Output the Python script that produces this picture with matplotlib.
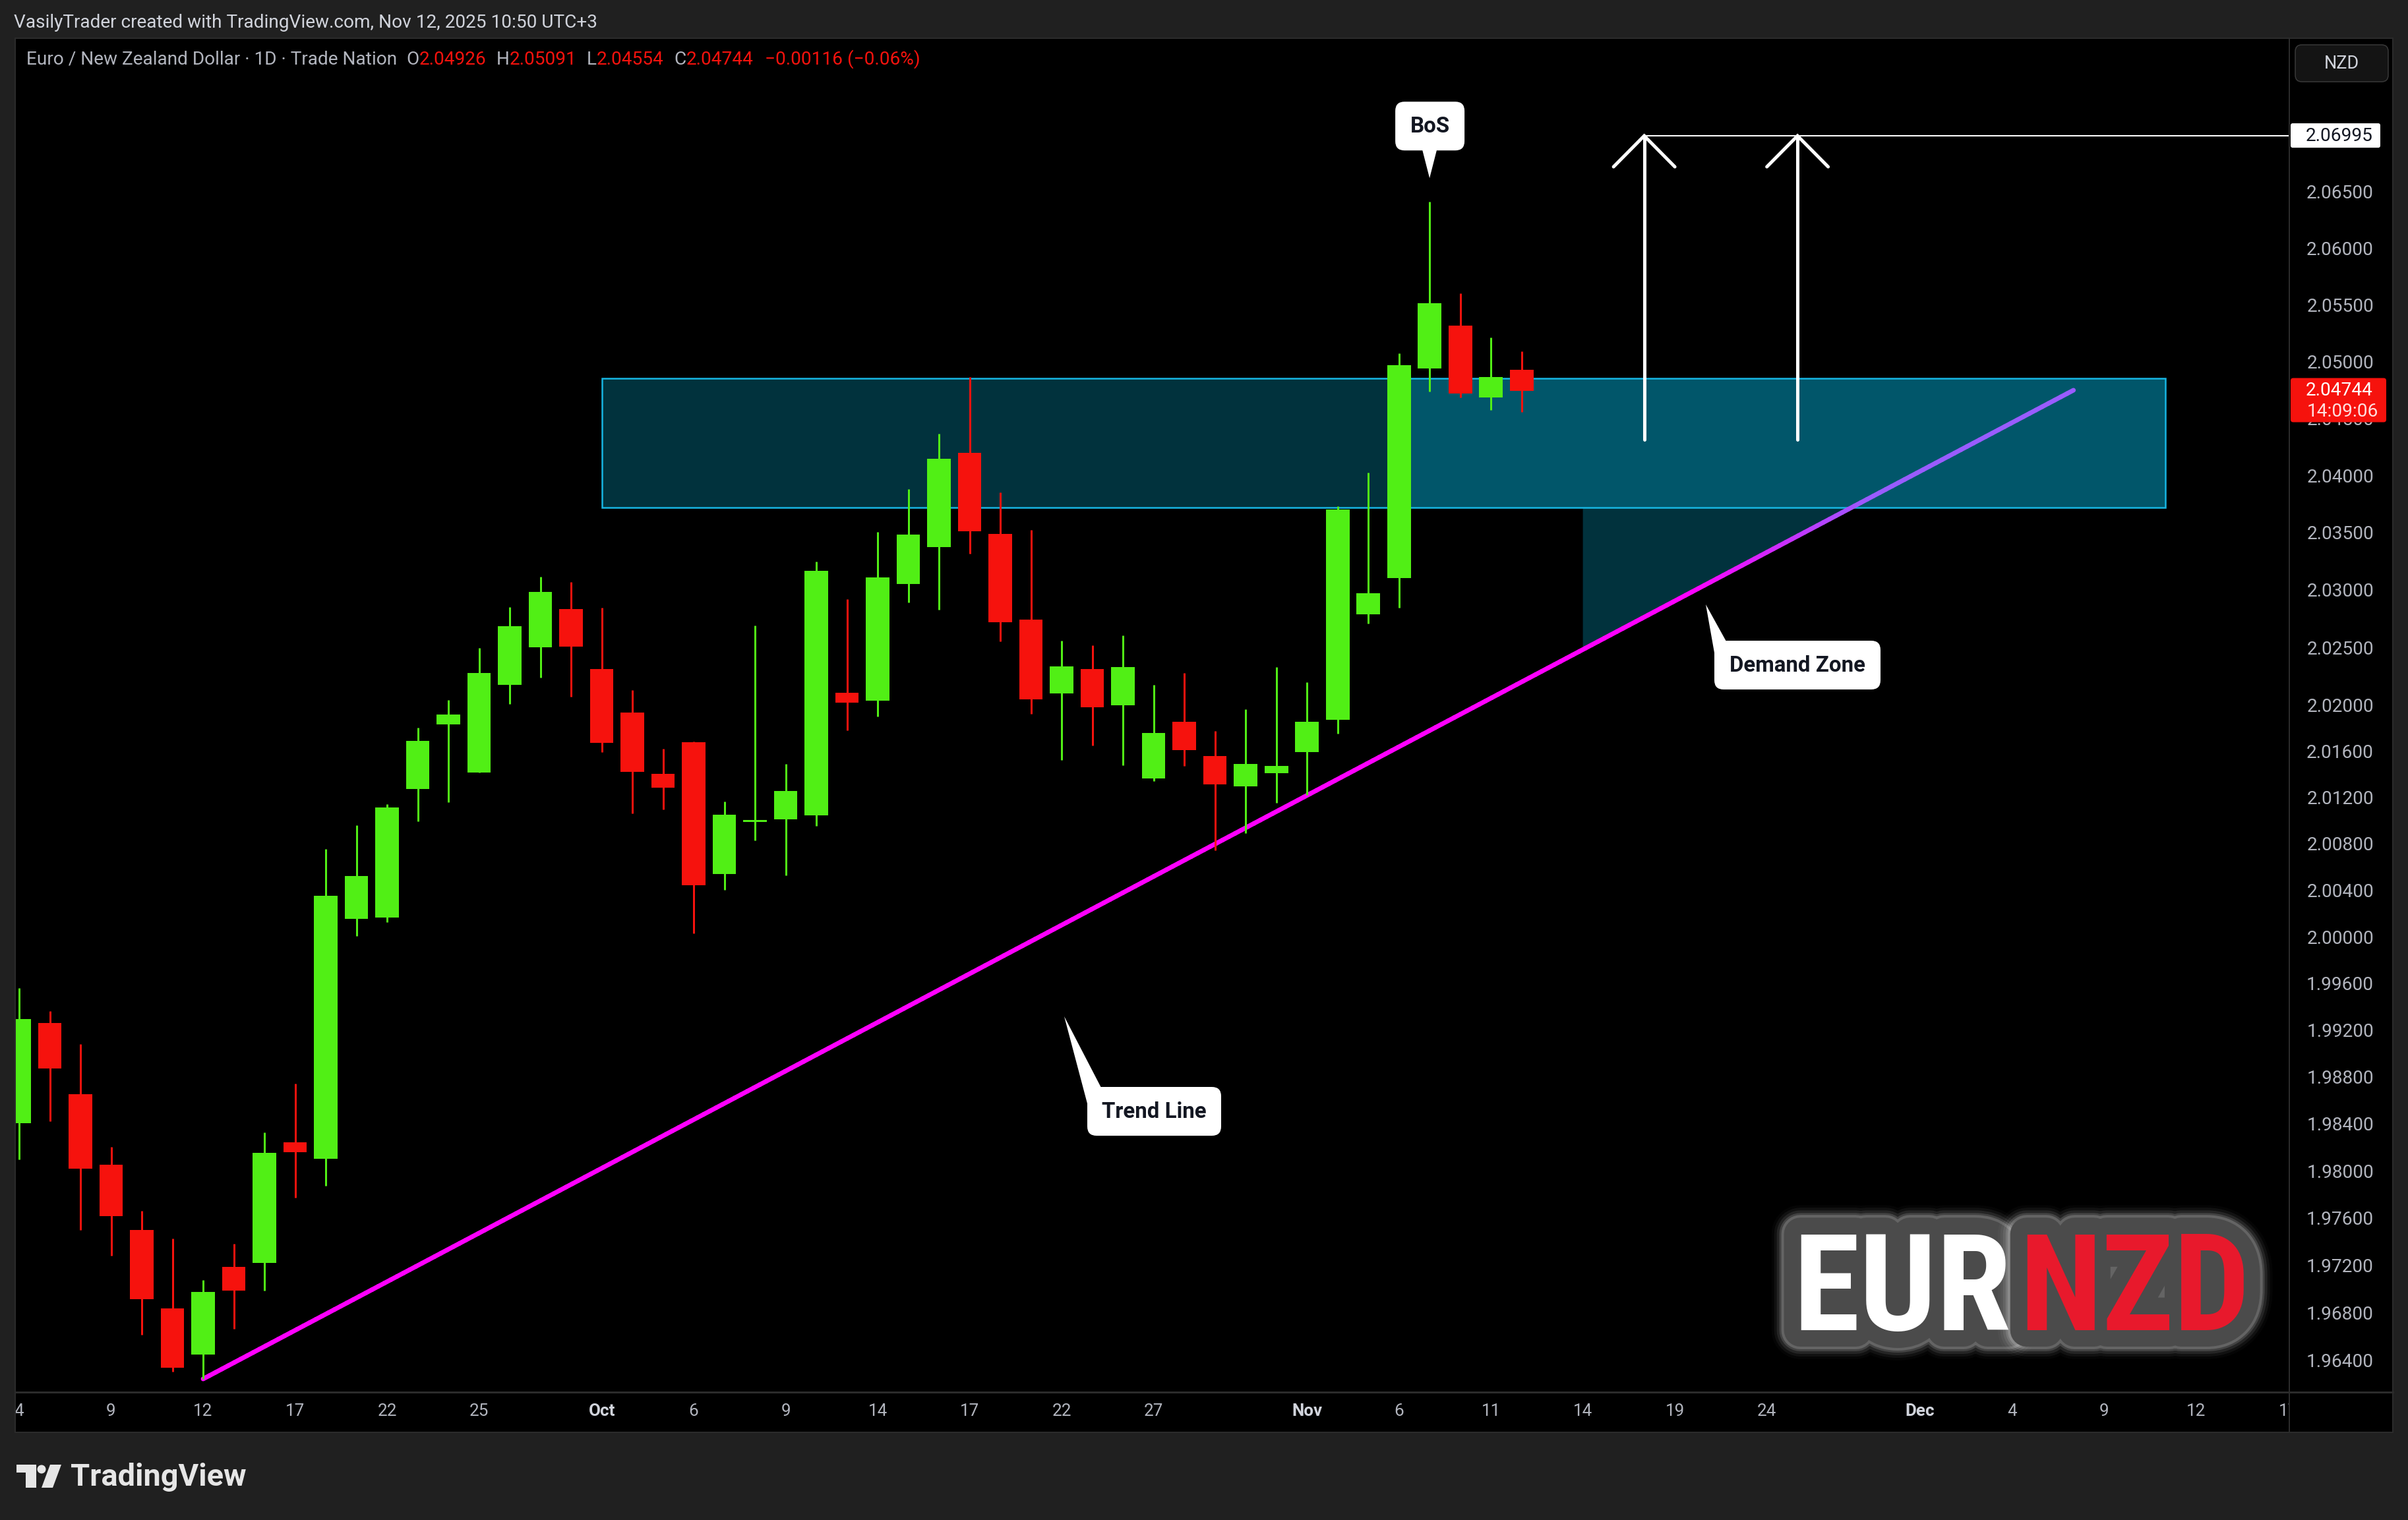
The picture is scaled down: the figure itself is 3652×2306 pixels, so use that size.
import numpy as np
import matplotlib
matplotlib.use('Agg')
import matplotlib.pyplot as plt
import matplotlib.patheffects as pe
from matplotlib.patches import Rectangle, FancyBboxPatch, Polygon, Circle
from matplotlib.collections import LineCollection
from matplotlib.lines import Line2D
from matplotlib.transforms import IdentityTransform

W, H, DPI = 3652, 2306, 72
plt.rcParams['font.family'] = ['Roboto', 'DejaVu Sans']

GREEN = '#51ef15'
RED = '#f6120d'
BG = '#202020'
BORDER = '#2b2b2b'
GREY = '#b2b5be'
LIGHT = '#d1d4dc'

# EUR/NZD daily candles, Sep 4 - Nov 12 2025 (trading days only)
opens = [1.98405, 1.99261, 1.98653, 1.98052, 1.97498, 1.96835, 1.96444, 1.97186, 1.97221, 1.98242,
         1.98103, 2.00154, 2.00164, 2.01272, 2.01832, 2.01414, 2.02174, 2.02499, 2.02832, 2.02310,
         2.01934, 2.01402, 2.01677, 2.00539, 2.00988, 2.01010, 2.01044, 2.02105, 2.02036, 2.03053,
         2.03373, 2.04197, 2.03487, 2.02741, 2.02098, 2.02311, 2.01996, 2.01363, 2.01852, 2.01556,
         2.01293, 2.01411, 2.01593, 2.01868, 2.02784, 2.03105, 2.04937, 2.05315, 2.04681, 2.04926]
highs = [1.99559, 1.99362, 1.99080, 1.98203, 1.97660, 1.97425, 1.97074, 1.97380, 1.98327, 1.98742,
         2.00755, 2.00959, 2.01141, 2.01801, 2.02043, 2.02494, 2.02849, 2.03114, 2.03068, 2.02844,
         2.02128, 2.01618, 2.01680, 2.01163, 2.02688, 2.01489, 2.03247, 2.02919, 2.03505, 2.03878,
         2.04363, 2.04863, 2.03851, 2.03522, 2.02557, 2.02517, 2.02603, 2.02173, 2.02276, 2.01775,
         2.01961, 2.02329, 2.02195, 2.03730, 2.04023, 2.05069, 2.06409, 2.05598, 2.05209, 2.05091]
lows = [1.98099, 1.98422, 1.97500, 1.97280, 1.96611, 1.96301, 1.96239, 1.96659, 1.96987, 1.97774,
        1.97872, 2.00007, 2.00123, 2.00993, 2.01158, 2.01414, 2.02008, 2.02236, 2.02070, 2.01591,
        2.01059, 2.01095, 2.00028, 2.00402, 2.00828, 2.00526, 2.00952, 2.01779, 2.01899, 2.02890,
        2.02828, 2.03316, 2.02552, 2.01922, 2.01521, 2.01648, 2.01478, 2.01341, 2.01470, 2.00745,
        2.00893, 2.01155, 2.01219, 2.01749, 2.02705, 2.02844, 2.04733, 2.04681, 2.04575, 2.04554]
closes = [1.99294, 1.98871, 1.98019, 1.97615, 1.96912, 1.96331, 1.96974, 1.96982, 1.98153, 1.98159,
          2.00349, 2.00521, 2.01113, 2.01687, 2.01915, 2.02276, 2.02683, 2.02980, 2.02507, 2.01672,
          2.01420, 2.01282, 2.00442, 2.01049, 2.01003, 2.01255, 2.03165, 2.02019, 2.03108, 2.03481,
          2.04145, 2.03511, 2.02717, 2.02046, 2.02332, 2.01979, 2.02327, 2.01756, 2.01610, 2.01311,
          2.01489, 2.01474, 2.01853, 2.03700, 2.02971, 2.04967, 2.05511, 2.04718, 2.04860, 2.04744]

# time axis (index = trading day since Sep 4)
tick_pos = [0, 3, 6, 9, 12, 15, 19, 22, 25, 28, 31, 34, 37, 42, 45, 48, 51, 54, 57, 62, 65, 68, 71, 74]
tick_labels = ['4', '9', '12', '17', '22', '25', 'Oct', '6', '9', '14', '17', '22', '27',
               'Nov', '6', '11', '14', '19', '24', 'Dec', '4', '9', '12', '17']
price_ticks = [2.065, 2.060, 2.055, 2.050, 2.045, 2.040, 2.035, 2.030, 2.025, 2.020,
               2.016, 2.012, 2.008, 2.004, 2.000, 1.996, 1.992, 1.988, 1.984, 1.980,
               1.976, 1.972, 1.968, 1.964]

# drawings
zone_top, zone_bottom = 2.04854, 2.03720
zone_start, zone_bright_start, zone_end = 19, 45, 70
shade_start = 51
target = 2.06995
arrow_days = [53, 58]
arrow_base = 2.04311
trend_end_day, trend_end_price = 67, 2.04747

fig = plt.figure(figsize=(W / DPI, H / DPI), dpi=DPI, facecolor=BG)
PIX = IdentityTransform()


def rect(x0, y0, x1, y1):
    return [x0 / W, 1 - y1 / H, (x1 - x0) / W, (y1 - y0) / H]


def fpt(x, y):
    return (x, H - y)


def ftext(x, y, s, **kw):
    return fig.text(x / W, 1 - y / H, s, **kw)


def box(x0, y0, x1, y1, fc, r=10, ec='none', lw=0, z=8):
    fig.add_artist(FancyBboxPatch((x0, H - y1), x1 - x0, y1 - y0,
                                  boxstyle=f'round,pad=0,rounding_size={r}', transform=PIX,
                                  fc=fc, ec=ec, lw=lw, zorder=z))


def poly(pts, fc, z=8):
    fig.add_artist(Polygon([fpt(*p) for p in pts], closed=True, transform=PIX,
                           fc=fc, ec='none', zorder=z))


def fline(xs, ys, color=BORDER, lw=2, z=7):
    fig.add_artist(Line2D(xs, [H - y for y in ys], transform=PIX, color=color, lw=lw, zorder=z))


# panel background
fig.add_artist(Rectangle((23, H - 2173), 3606, 2115, transform=PIX, fc='black', ec='none', zorder=-1))

ax = fig.add_axes(rect(23, 58, 3472, 2112))
ax.set_facecolor('black')
ax.set_yscale('log')
ax.set_xlim(-0.13, 74.04)
ax.set_ylim(1.96128, 2.07864)
for s in ax.spines.values():
    s.set_visible(False)
ax.tick_params(axis='y', which='both', left=False, labelleft=False)
ax.set_xticks(tick_pos, tick_labels)
ax.minorticks_off()
ax.tick_params(axis='x', length=0, pad=17, labelsize=26, labelcolor=GREY)
for lab, txt in zip(ax.get_xticklabels(), tick_labels):
    if txt in ('Oct', 'Nov', 'Dec'):
        lab.set_fontweight('bold')
        lab.set_color(LIGHT)

# price axis
axp = fig.add_axes(rect(3472, 58, 3629, 2112), zorder=2)
axp.set_facecolor('black')
axp.set_yscale('log')
axp.set_ylim(ax.get_ylim())
axp.set_xlim(0, 1)
axp.set_xticks([])
for s in axp.spines.values():
    s.set_visible(False)
axp.set_yticks(price_ticks, [f'{p:.5f}' for p in price_ticks])
axp.minorticks_off()
axp.tick_params(axis='y', length=0, pad=-128, labelsize=28, labelcolor=GREY)


def img_y(p):
    return H - ax.transData.transform((0, p))[1]


def img_x(i):
    return ax.transData.transform((i, 2.0))[0]


def price_at_img_y(y):
    return ax.transData.inverted().transform((0, H - y))[1]


# trend line, straight on screen (log-linear in price)
ti0, tp0 = 6, lows[6]


def trend_price(i):
    return np.exp(np.log(tp0) + (i - ti0) / (trend_end_day - ti0) * (np.log(trend_end_price) - np.log(tp0)))


# demand zone
ax.add_patch(Rectangle((zone_start, zone_bottom), zone_end - zone_start, zone_top - zone_bottom,
                       fc='#01323d', ec='none', zorder=1))
ax.add_patch(Rectangle((zone_bright_start, zone_bottom), zone_end - zone_bright_start, zone_top - zone_bottom,
                       fc='#01566a', ec='none', zorder=1.1))
i_cross = ti0 + (np.log(zone_bottom) - np.log(tp0)) / (np.log(trend_end_price) - np.log(tp0)) * (trend_end_day - ti0)
ax.add_patch(Polygon([(shade_start, zone_bottom), (shade_start, trend_price(shade_start)), (i_cross, zone_bottom)],
                     closed=True, fc='#01323d', ec='none', zorder=1))
ax.add_patch(Rectangle((zone_start, zone_bottom), zone_end - zone_start, zone_top - zone_bottom,
                       fill=False, ec='#17b6e3', lw=2.5, zorder=2.5))

ts = np.linspace(ti0, trend_end_day, 300)
pts = np.column_stack([ts, trend_price(ts)]).reshape(-1, 1, 2)
segs = np.concatenate([pts[:-1], pts[1:]], axis=1)
mid = (ts[:-1] + ts[1:]) / 2
t = np.clip((mid - 54.5) / 6.0, 0, 1)[:, None]
cols = (1 - t) * np.array([1.0, 0.0, 1.0]) + t * np.array([0.60, 0.36, 1.0])
ax.add_collection(LineCollection(segs, colors=cols, linewidths=7, capstyle='round', zorder=3))

# candles
x = np.arange(len(opens))
o, h, l, c = (np.array(v) for v in (opens, highs, lows, closes))
colors = np.where(c >= o, GREEN, RED)
ax.vlines(x, l, h, colors=colors, lw=3, zorder=4)
ax.bar(x, np.abs(c - o), bottom=np.minimum(o, c), width=0.77, color=colors, lw=0, zorder=5)

# target arrows
tip_y = img_y(target)
head_p = price_at_img_y(tip_y + 47)
for d in arrow_days:
    ax.plot([d, d], [arrow_base, target], color='white', lw=5, solid_capstyle='round', zorder=7)
    ax.plot([d - 1, d, d + 1], [head_p, target, head_p], color='white', lw=5,
            solid_joinstyle='miter', solid_capstyle='round', zorder=7)
ax.hlines(target, arrow_days[0], ax.get_xlim()[1], color='white', lw=2, zorder=7)

# callouts
def callout(x0, y0, x1, y1, tail, label, fs=33):
    box(x0, y0, x1, y1, 'white', r=14)
    poly(tail, 'white')
    ftext((x0 + x1) / 2, (y0 + y1) / 2 + 1, label, ha='center', va='center', fontsize=fs,
          fontweight='bold', color='#131722', zorder=9)


bx = img_x(46)
by = img_y(highs[46]) - 36
callout(bx - 52, by - 116, bx + 53, by - 42, [(bx - 11, by - 43), (bx + 11, by - 43), (bx, by)], 'BoS')
callout(2600, 972, 2852, 1046, [(2587, 917), (2601, 996), (2618, 973)], 'Demand Zone')
callout(1649, 1649, 1852, 1723, [(1614, 1542), (1650, 1678), (1670, 1650)], 'Trend Line')

# price axis labels
box(3474, tip_y - 19, 3610, tip_y + 18, 'white', r=3, z=9)
ftext(3599, tip_y, f'{target:.5f}', ha='right', va='center', fontsize=28, color='#131722', zorder=10)
cy = img_y(closes[-1])
box(3474, cy - 19, 3619, cy + 48, RED, r=4, z=9)
ftext(3599, cy, f'{closes[-1]:.5f}', ha='right', va='center', fontsize=28, color='white', zorder=10)
ftext(3607, cy + 32, '14:09:06', ha='right', va='center', fontsize=28, color='#ffdede', zorder=10)
box(3481, 68, 3622, 124, '#141414', r=10, ec='#3a3a3a', lw=1.5, z=9)
ftext(3551, 96, 'NZD', ha='center', va='center', fontsize=27, color=LIGHT, zorder=10)

# cover of time-axis under the price scale, borders
fig.add_artist(Rectangle((3473, H - 2172), 155, 59, transform=PIX, fc='black', ec='none', zorder=3))
fline([23, 3629], [2112, 2112], lw=3)
fline([3472, 3472], [58, 2173], lw=2)
fig.add_artist(Rectangle((23, H - 2173), 3606, 2115, transform=PIX, fill=False, ec=BORDER, lw=2, zorder=7))

# header / legend
ftext(21, 35, 'VasilyTrader created with TradingView.com, Nov 12, 2025 10:50 UTC+3',
      va='center', fontsize=28, color=LIGHT)
chg = closes[-1] - closes[-2]
pieces = [('O', GREY, 14), (f'{opens[-1]:.5f}', RED, 0), ('H', GREY, 16), (f'{highs[-1]:.5f}', RED, 0),
          ('L', GREY, 15), (f'{lows[-1]:.5f}', RED, 0), ('C', GREY, 16), (f'{closes[-1]:.5f}', RED, 0),
          (f'{chg:+.5f} ({chg / closes[-2] * 100:+.2f}%)'.replace('-', '\u2212'), RED, 17)]
prev = ftext(40, 90, 'Euro / New Zealand Dollar \u00b7 1D \u00b7 Trade Nation', va='center',
             fontsize=28, color=GREY, zorder=9)
for s, col, gap in pieces:
    prev = ax.annotate(s, xy=(1, 0), xycoords=prev, xytext=(gap, 0), textcoords='offset pixels',
                       ha='left', va='bottom', fontsize=28, color=col, zorder=9)

# EURNZD badge
logo_font = ['Roboto Condensed', 'Liberation Sans Narrow', 'DejaVu Sans']
glow = [pe.Stroke(linewidth=88, foreground='white', alpha=0.025),
        pe.Stroke(linewidth=80, foreground='white', alpha=0.05),
        pe.Stroke(linewidth=72, foreground='#f0f0f0', alpha=0.09),
        pe.Stroke(linewidth=64, foreground='#e0e0e0', alpha=0.16),
        pe.Stroke(linewidth=58, foreground='#c8c8c8', alpha=0.25),
        pe.Stroke(linewidth=50, foreground='#4b4b4b'), pe.Normal()]
for s, ha, xx, col in (('EUR', 'right', 3050, 'white'), ('NZD', 'left', 3062, '#e8192c')):
    ftext(xx, 2018, s, ha=ha, va='baseline', fontsize=205, fontweight='bold', family=logo_font,
          color='#4b4b4b', path_effects=glow, zorder=5)
    ftext(xx, 2018, s, ha=ha, va='baseline', fontsize=205, fontweight='bold', family=logo_font,
          color=col, zorder=6)

# TradingView footer logo
poly([(25, 2222), (55, 2222), (55, 2257), (39, 2257), (39, 2234), (25, 2234)], '#e6e6e6')
fig.add_artist(Circle(fpt(63, 2229), 6.5, transform=PIX, fc='#e6e6e6', ec='none', zorder=8))
poly([(76, 2222), (93, 2222), (80, 2257), (63, 2257)], '#e6e6e6')
ftext(107, 2241, 'TradingView', va='center', fontsize=47, fontweight='bold', color='#e6e6e6')

fig.savefig('out.png', dpi=DPI, facecolor=BG)
